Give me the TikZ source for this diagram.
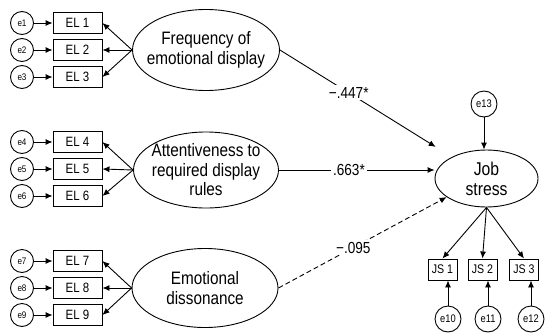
\documentclass[tikz,border=0pt]{standalone}
\usepackage{fontspec}
\setmainfont[FakeStretch=0.85]{Liberation Sans}
\usepackage{tikz}
\usetikzlibrary{shapes.geometric,arrows.meta}
\newcommand{\strokewidth}{0.9pt}
\newcommand{\tipsize}{7pt}
\tikzset{
  errnode/.style={draw, circle, line width=\strokewidth, inner sep=0pt, minimum size=23pt, font=\fontsize{9.5}{10}\selectfont},
  bigerr/.style={errnode, minimum size=26pt, font=\fontsize{11}{12}\selectfont},
  obsbox/.style={draw, rectangle, line width=\strokewidth, inner sep=0pt, minimum width=49pt, minimum height=21pt, font=\fontsize{13.5}{14}\selectfont},
  jsbox/.style={obsbox, minimum width=29pt, font=\fontsize{12.5}{13}\selectfont},
  latent/.style={draw, ellipse, line width=\strokewidth, inner sep=0pt},
  latenttext/.style={align=center, font=\fontsize{18}{19.5}\selectfont},
  link/.style={line width=\strokewidth, -{Latex[length=\tipsize,width=6pt]}},
  coef/.style={fill=white, inner sep=2pt, font=\fontsize{16}{17}\selectfont}
}

\begin{document}
\begin{tikzpicture}[x=1pt, y=-1pt]
\useasboundingbox (0,0) rectangle (545,332);
%frequency
\node[errnode] (e1) at (22,23) {e1};
\node[errnode] (e2) at (22,50) {e2};
\node[errnode] (e3) at (22,77) {e3};
\node[obsbox] (el1) at (77.5,23) {EL 1};
\node[obsbox] (el2) at (77.5,50) {EL 2};
\node[obsbox] (el3) at (77.5,77) {EL 3};
\node[latent, minimum width=147pt, minimum height=81pt, label={[latenttext]center:Frequency of\\emotional display}] (f1) at (206,50) {};
\draw[link] (e1) -- (el1);
\draw[link] (e2) -- (el2);
\draw[link] (e3) -- (el3);
\draw[link] (f1.west) -- (el1.east);
\draw[link] (f1.west) -- (el2.east);
\draw[link] (f1.west) -- (el3.east);
%attentiveness
\node[errnode] (e4) at (22,142) {e4};
\node[errnode] (e5) at (22,169) {e5};
\node[errnode] (e6) at (22,196) {e6};
\node[obsbox] (el4) at (77.5,142) {EL 4};
\node[obsbox] (el5) at (77.5,169) {EL 5};
\node[obsbox] (el6) at (77.5,196) {EL 6};
\node[latent, minimum width=145pt, minimum height=76pt, label={[latenttext]center:Attentiveness to\\required display\\rules}] (f2) at (206,170) {};
\draw[link] (e4) -- (el4);
\draw[link] (e5) -- (el5);
\draw[link] (e6) -- (el6);
\draw[link] (f2.west) -- (el4.east);
\draw[link] (f2.west) -- (el5.east);
\draw[link] (f2.west) -- (el6.east);
%dissonance
\node[errnode] (e7) at (22,261) {e7};
\node[errnode] (e8) at (22,288) {e8};
\node[errnode] (e9) at (22,315) {e9};
\node[obsbox] (el7) at (77.5,261) {EL 7};
\node[obsbox] (el8) at (77.5,288) {EL 8};
\node[obsbox] (el9) at (77.5,315) {EL 9};
\node[latent, minimum width=146pt, minimum height=79pt, label={[latenttext]center:Emotional\\dissonance}] (f3) at (205,288) {};
\draw[link] (e7) -- (el7);
\draw[link] (e8) -- (el8);
\draw[link] (e9) -- (el9);
\draw[link] (f3.west) -- (el7.east);
\draw[link] (f3.west) -- (el8.east);
\draw[link] (f3.west) -- (el9.east);
%job stress
\node[latent, minimum width=103pt, minimum height=57pt, label={[latenttext, font=\fontsize{18.5}{20}\selectfont]center:Job\\stress}] (js) at (486.5,178.5) {};
\node[bigerr] (e13) at (484,104) {e13};
\node[jsbox] (js1) at (442.5,269.5) {JS 1};
\node[jsbox] (js2) at (482.5,269.5) {JS 2};
\node[jsbox] (js3) at (524,269.5) {JS 3};
\node[bigerr] (e10) at (448,319) {e10};
\node[bigerr] (e11) at (488,319) {e11};
\node[bigerr] (e12) at (531,319) {e12};
\draw[link] (e13) -- (e13 |- js.north);
\draw[link] (js.south) -- (js1.north);
\draw[link] (js.south) -- (js2.north);
\draw[link] (js.south) -- (js3.north);
\draw[link] (e10) -- (e10 |- js1.south);
\draw[link] (e11) -- (e11 |- js2.south);
\draw[link] (e12) -- (e12 |- js3.south);
%paths
\draw[link, shorten >=19pt] (f1.east) -- (js) node[coef, pos=0.4] {−.447*};
\draw[link] (f2.east) -- (f2.east -| js.west) node[coef, pos=0.45] {.663*};
\draw[link, dash pattern=on 5pt off 3pt] (f3.east) -- (js.205) node[coef, pos=0.445] {−.095};
\end{tikzpicture}
\end{document}
